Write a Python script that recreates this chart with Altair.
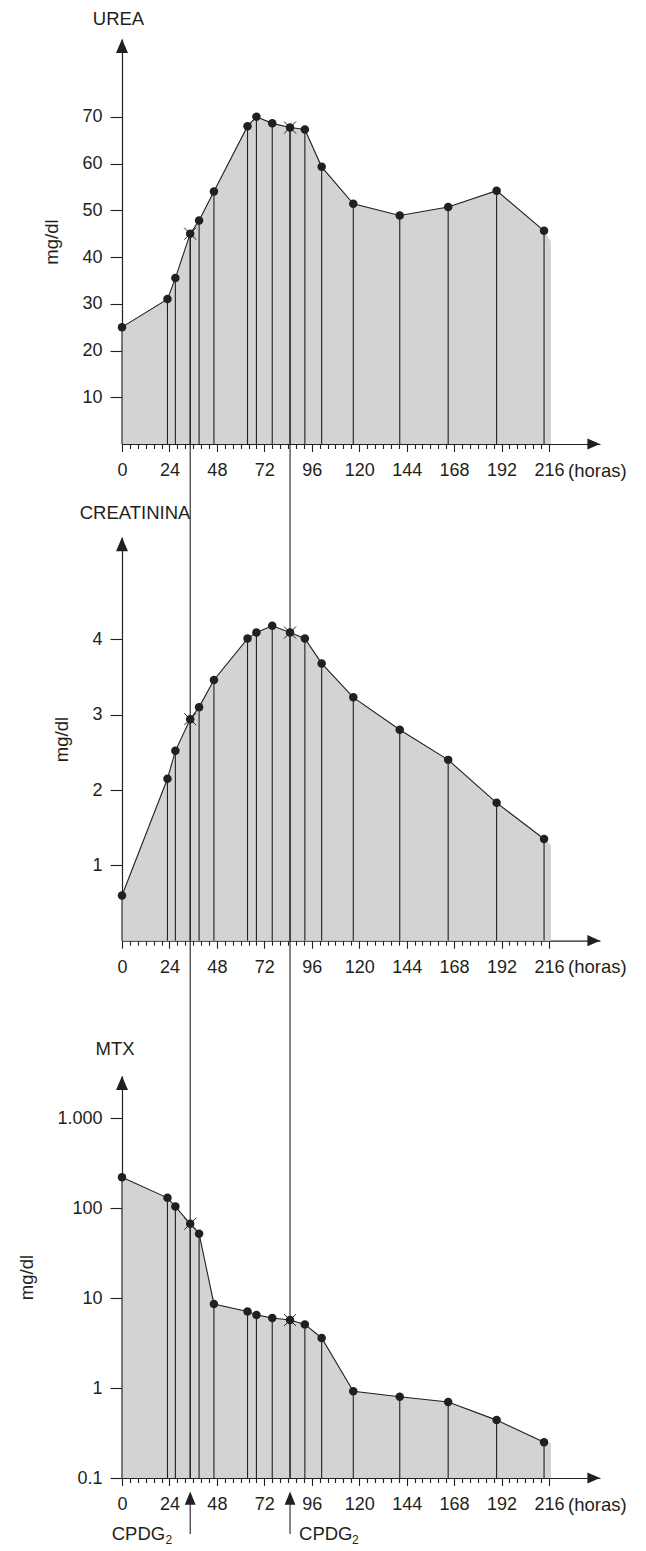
import altair as alt
import pandas as pd

# ---------------- data ----------------
hours = [0, 23, 27, 34.5, 39, 46.5, 63.5, 68, 76, 85, 92.5, 101, 117, 140.5, 165, 189.5, 213.5]
urea = [25, 31, 35.5, 45, 47.8, 54, 68, 70, 68.6, 67.7, 67.3, 59.3, 51.4, 48.9, 50.7, 54.2, 45.6]
creatinina = [0.6, 2.15, 2.52, 2.94, 3.1, 3.46, 4.01, 4.09, 4.18, 4.09, 4.01, 3.68, 3.23, 2.8, 2.4, 1.83, 1.35]
mtx = [220, 130, 104, 67, 52, 8.6, 7.1, 6.5, 6.0, 5.7, 5.1, 3.6, 0.92, 0.80, 0.70, 0.44, 0.25]
marked_hours = [34.5, 85]          # CPDG2 doses (points drawn with a cross)
fill_end_hour = 217
urea_fill_end = 43.3
creatinina_fill_end = 1.27
mtx_fill_end = 0.245

x_major = [0, 24, 48, 72, 96, 120, 144, 168, 192, 216]
x_minor = [h for h in range(0, 217, 4) if h % 24]
urea_ticks = [10, 20, 30, 40, 50, 60, 70]
creat_ticks = [1, 2, 3, 4]
mtx_ticks = [0.1, 1, 10, 100, 1000]
mtx_tick_labels = ["0.1", "1", "10", "100", "1.000"]
titles = ["UREA", "CREATININA", "MTX"]
y_title = "mg/dl"
x_unit = "(horas)"
cpdg_text = "CPDG"
cpdg_sub = "2"

# ---------------- styling ----------------
INK = "#231f20"
FILL = "#d1d3d4"
FONT = "Liberation Sans"
FS = 18
TFS = 18.5
W, H = 478, 1439
XMAX = 241.8
UP_ARROW = "M0,0L-0.857,2L0.857,2Z"
RIGHT_ARROW = "M0,0L-1.8,-0.8L-1.8,0.8Z"
CROSS = "M-1,-1L1,1M-1,1L1,-1"

xscale = alt.Scale(domain=[0, XMAX], nice=False, zero=False)

mtx_expr = "".join(
    f"abs(datum.value - {v}) < {v} * 0.01 ? '{l}' : " for v, l in zip(mtx_ticks, mtx_tick_labels)
) + "datum.label"


def X(axis=None):
    return alt.X("hour:Q", scale=xscale, axis=axis)


def build_panel(name, vals, fill_end, yscale, base, top, ticks, xoff, tdx, tdy, label_expr=None):
    df = pd.DataFrame({"hour": hours, "value": vals})
    adf = pd.concat([df, pd.DataFrame({"hour": [fill_end_hour], "value": [fill_end]})], ignore_index=True)
    mdf = df[df["hour"].isin(marked_hours)]

    def Y(axis=None):
        return alt.Y("value:Q", scale=yscale, axis=axis)

    ykw = dict(values=ticks, orient="left", title=y_title, tickSize=12, labelPadding=8,
               titlePadding=20, grid=False)
    if label_expr:
        ykw["labelExpr"] = label_expr
    yaxis = alt.Axis(**ykw)
    xmajor = alt.Axis(values=x_major, orient="bottom", offset=xoff, tickSize=7.5,
                      labelPadding=10, title=None, grid=False, labelFlush=False)
    xminor = alt.Axis(values=x_minor, orient="bottom", offset=xoff, tickSize=4.5,
                      labels=False, domain=False, title=None, grid=False)

    area = alt.Chart(adf).mark_area(color=FILL, opacity=1).encode(
        x=X(xmajor), y=Y(yaxis), y2=alt.datum(base))
    drops = alt.Chart(df).mark_rule(color=INK, strokeWidth=1.1).encode(
        x=X(xminor), y=Y(), y2=alt.datum(base))
    line = alt.Chart(df).mark_line(color=INK, strokeWidth=1.1).encode(x=X(), y=Y())
    dots = alt.Chart(df).mark_circle(color=INK, size=72, opacity=1).encode(x=X(), y=Y())
    crosses = alt.Chart(mdf).mark_point(shape=CROSS, size=144, color=INK, filled=False,
                                        strokeWidth=1, opacity=1).encode(x=X(), y=Y())
    yarrow = alt.Chart(pd.DataFrame({"hour": [0], "value": [top]})).mark_point(
        shape=UP_ARROW, size=196, color=INK, filled=True, opacity=1, strokeWidth=0
    ).encode(x=X(), y=Y())
    xarrow = alt.Chart(pd.DataFrame({"hour": [XMAX], "value": [base]})).mark_point(
        shape=RIGHT_ARROW, size=196, color=INK, filled=True, opacity=1, strokeWidth=0
    ).encode(x=X(), y=Y())
    title = alt.Chart(pd.DataFrame({"hour": [0], "value": [top]})).mark_text(
        text=name, align="center", baseline="alphabetic", dx=tdx, dy=tdy,
        font=FONT, fontSize=TFS, color=INK
    ).encode(x=X(), y=Y())
    unit = alt.Chart(pd.DataFrame({"hour": [x_major[-1]], "value": [base]})).mark_text(
        text=x_unit, align="left", baseline="top", dx=19, dy=17.5,
        font=FONT, fontSize=TFS, color=INK
    ).encode(x=X(), y=Y())
    layers = [area, drops, line, dots, crosses, yarrow, xarrow, title, unit]
    return layers, df, Y


urea_scale = alt.Scale(domain=[0, 86.65], range=[405, 0], nice=False, zero=False)
creat_scale = alt.Scale(domain=[0, 5.354], range=[901.7, 498.3], nice=False, zero=False)
mtx_scale = alt.Scale(type="log", domain=[0.1, 2940], range=[H, 1037], nice=False, zero=False)

l1, urea_df, urea_Y = build_panel(titles[0], urea, urea_fill_end, urea_scale, 0, 86.65,
                                  urea_ticks, 405 - H, -3.5, -14)
l2, _, _ = build_panel(titles[1], creatinina, creatinina_fill_end, creat_scale, 0, 5.354,
                       creat_ticks, 901.7 - H, 13, -18)
l3, _, _ = build_panel(titles[2], mtx, mtx_fill_end, mtx_scale, 0.1, 2940,
                       mtx_ticks, 0, -7, -21, label_expr=mtx_expr)

# long vertical lines that join the CPDG2 doses across the three panels
conn_df = urea_df[urea_df["hour"].isin(marked_hours)]
connector = alt.Chart(conn_df).mark_rule(color=INK, strokeWidth=1.1).encode(
    x=X(), y=urea_Y(), y2=alt.value(H))

# CPDG2 arrows under the last axis
cp = pd.DataFrame({"hour": marked_hours})
cp_stem = alt.Chart(cp).mark_rule(color=INK, strokeWidth=1.1).encode(
    x=X(), y=alt.value(H + 20), y2=alt.value(H + 56))
cp_head = alt.Chart(cp).mark_point(shape="M0,0L-0.77,1.9L0.77,1.9Z", size=196, color=INK,
                                   filled=True, opacity=1, strokeWidth=0).encode(
    x=X(), y=alt.value(H + 13.5))
cp1 = alt.Chart(cp.iloc[[0]])
cp2 = alt.Chart(cp.iloc[[1]])
txt = dict(font=FONT, color=INK, baseline="alphabetic")
cp_l1 = cp1.mark_text(text=cpdg_text, align="right", dx=-25, fontSize=TFS, **txt).encode(
    x=X(), y=alt.value(H + 62))
cp_s1 = cp1.mark_text(text=cpdg_sub, align="right", dx=-18, fontSize=12, **txt).encode(
    x=X(), y=alt.value(H + 66))
cp_l2 = cp2.mark_text(text=cpdg_text, align="left", dx=9, fontSize=TFS, **txt).encode(
    x=X(), y=alt.value(H + 62))
cp_s2 = cp2.mark_text(text=cpdg_sub, align="left", dx=62, fontSize=12, **txt).encode(
    x=X(), y=alt.value(H + 66))

chart = alt.layer(
    *l1, *l2, *l3, connector, cp_stem, cp_head, cp_l1, cp_s1, cp_l2, cp_s2
).properties(
    width=W, height=H,
    padding={"left": 114, "top": 31, "right": 38, "bottom": 72},
    autosize=alt.AutoSizeParams(type="none"),
).resolve_scale(
    y="independent"
).resolve_axis(
    x="independent", y="independent"
).configure_view(
    strokeWidth=0
).configure_axis(
    labelFont=FONT, labelFontSize=FS, labelColor=INK,
    titleFont=FONT, titleFontSize=TFS, titleFontWeight="normal", titleColor=INK,
    domainColor=INK, tickColor=INK, domainWidth=1.2, tickWidth=1.1,
)

chart.save("out.html", embed_options={"renderer": "svg", "actions": False})
